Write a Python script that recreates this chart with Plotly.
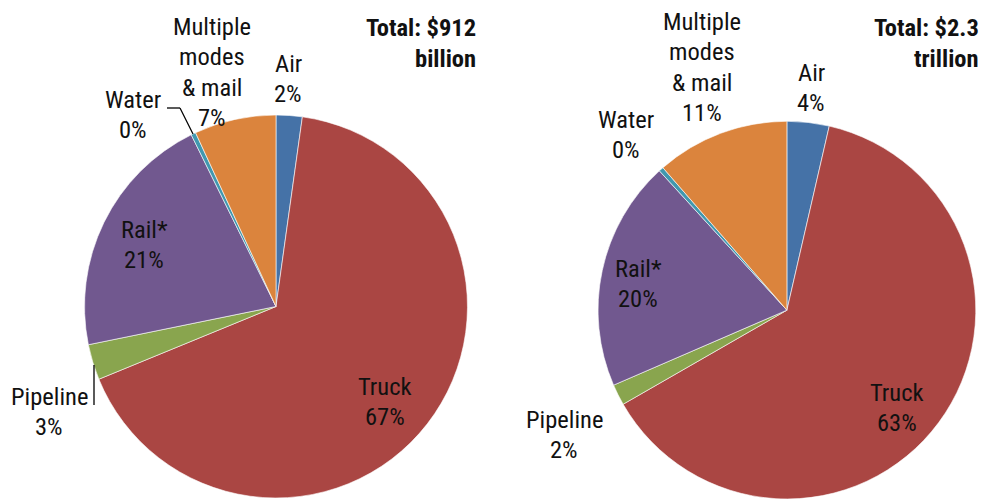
import plotly.graph_objects as go

# ---- data ----
categories = ["Air", "Truck", "Pipeline", "Rail*", "Water", "Multiple<br>modes<br>& mail"]
values_left = [2.2, 66.6, 3.0, 20.9, 0.4, 6.9]      # Total: $912 billion
values_right = [3.6, 63.1, 1.8, 19.7, 0.4, 11.4]    # Total: $2.3 trillion
titles = ["Total: $912<br>billion", "Total: $2.3<br>trillion"]
colors = ["#4572A7", "#AA4643", "#89A54E", "#71588F", "#4198AF", "#DB843D"]

W, H = 985, 499
FONT = "Liberation Sans Narrow, Arial Narrow, Roboto Condensed, sans-serif"
FS = 24.5

fig = go.Figure()
# pie domains (paper fractions)
domains = [
    dict(x=[0.0858, 0.4746], y=[0.002, 0.7696]),
    dict(x=[0.6045, 0.9933], y=[0.0, 0.757]),
]
for vals, dom in zip([values_left, values_right], domains):
    fig.add_trace(go.Pie(
        labels=[c.replace("<br>", " ") for c in categories], values=vals,
        sort=False, direction="clockwise", rotation=0,
        marker=dict(colors=colors, line=dict(color="white", width=0.6)),
        textinfo="none", hoverinfo="label+percent", domain=dom,
        showlegend=False,
    ))

# label layout: (center x px, first baseline px) per category per pie
label_pos = [
    [(288, 72), (385, 395), (49, 405), (144, 238), (133, 108), (212, 35)],
    [(811, 81), (897, 401), (564, 428), (638, 277), (626, 128), (702, 30)],
]
LINE = 30.5

def add_line(text, x, baseline, anchor="center", bold=False):
    fig.add_annotation(
        x=x / W, y=1 - (baseline - 0.36 * FS) / H, xref="paper", yref="paper",
        text=("<b>%s</b>" % text) if bold else text, showarrow=False,
        xanchor=anchor, yanchor="middle",
        font=dict(family=FONT, size=FS, color="#111111"),
    )

for vals, poss in zip([values_left, values_right], label_pos):
    for cat, v, (x, b) in zip(categories, vals, poss):
        lines = cat.split("<br>") + ["%d%%" % round(v)]
        for i, t in enumerate(lines):
            add_line(t, x, b + i * LINE)

# titles (right aligned)
for t, xr in zip(titles, [478, 981]):
    for i, ln in enumerate(t.split("<br>")):
        add_line(ln, xr, 36 + i * 31, anchor="right", bold=True)

# leader lines (left pie)
def seg(x0, y0, x1, y1):
    fig.add_shape(type="line", xref="paper", yref="paper",
                  x0=x0 / W, y0=1 - y0 / H, x1=x1 / W, y1=1 - y1 / H,
                  line=dict(color="black", width=1.3))
seg(167, 108, 180, 108)
seg(180, 108, 193, 134)
seg(94, 365, 94, 405)

fig.update_layout(
    width=W, height=H, margin=dict(l=0, r=0, t=0, b=0),
    paper_bgcolor="white", plot_bgcolor="white",
)
fig.write_html("out.html", config={"displayModeBar": False},
               post_script="document.body.style.margin='0';document.body.style.overflow='hidden';")
